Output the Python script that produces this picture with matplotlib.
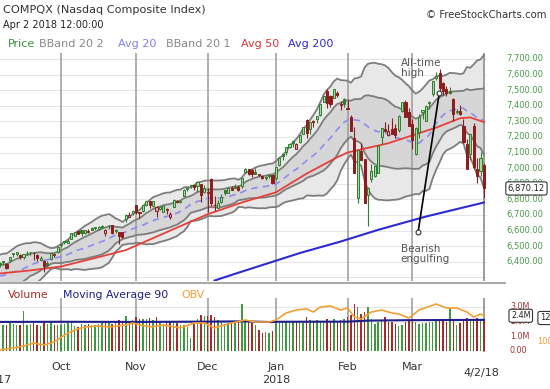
import matplotlib
matplotlib.use("Agg")
import matplotlib.pyplot as plt
import matplotlib.transforms as mtransforms
from matplotlib.lines import Line2D
import numpy as np
import pandas as pd

HOLIDAYS = ["2017-11-23", "2017-12-25", "2018-01-01", "2018-01-15",
            "2018-02-19", "2018-03-30"]

# closes Aug 9 - Sep 5 2017, only used to start the 20 day bands
warmup_closes = [6352, 6217, 6256, 6340, 6333, 6346, 6221, 6217, 6213, 6297,
                 6278, 6272, 6265, 6284, 6302, 6369, 6429, 6435, 6376]

opens = [
    6389, 6404, 6386, 6411, 6449, 6449, 6444, 6428, 6457, 6464, 6458, 6445, 6412, 6407, 6393, 6415, 6441, 6461,
    6506, 6524, 6521, 6549, 6567, 6597, 6604, 6583, 6595, 6616, 6617, 6610, 6632, 6583, 6630, 6634, 6605, 6589, 6591, 6677, 6690, 6715,
    6765, 6719, 6725, 6764, 6791, 6758, 6725, 6736, 6722, 6735, 6688, 6749, 6792, 6786, 6819, 6868, 6883, 6889, 6887, 6898, 6850,
    6844, 6932, 6763, 6746, 6786, 6860, 6841, 6873, 6876, 6882, 6884, 6975, 6995, 6991, 6974, 6957, 6948, 6942, 6958, 6954,
    6937, 7018, 7089, 7103, 7138, 7171, 7125, 7170, 7220, 7311, 7254, 7300, 7315, 7341, 7425, 7495, 7460, 7452, 7483, 7410, 7442,
    7378, 7329, 7196, 6810, 7112, 7058, 6830, 6928, 6948, 6968, 7197, 7252, 7210, 7254, 7258, 7242, 7369, 7425, 7362,
    7281, 7089, 7233, 7363, 7305, 7416, 7474, 7580, 7613, 7543, 7508, 7493, 7441, 7358, 7364, 7269, 7153, 7092, 7268, 6995, 6984, 7022,
]
highs = [
    6401, 6408, 6391, 6433, 6455, 6460, 6450, 6449, 6468, 6466, 6460, 6447, 6436, 6409, 6404, 6457, 6454, 6497,
    6517, 6533, 6544, 6586, 6591, 6600, 6605, 6604, 6610, 6620, 6625, 6627, 6636, 6608, 6635, 6637, 6612, 6590, 6591, 6708, 6716, 6729,
    6766, 6720, 6764, 6788, 6792, 6790, 6755, 6758, 6765, 6744, 6717, 6802, 6796, 6795, 6865, 6876, 6890, 6895, 6914, 6898, 6891,
    6872, 6940, 6820, 6794, 6833, 6863, 6876, 6884, 6897, 6892, 6937, 7003, 6996, 6995, 6998, 6964, 6953, 6951, 6958, 6955,
    7007, 7070, 7099, 7138, 7162, 7175, 7161, 7212, 7262, 7318, 7299, 7306, 7336, 7409, 7462, 7505, 7469, 7506, 7496, 7433, 7452,
    7436, 7342, 7266, 7119, 7162, 7058, 6880, 7025, 7017, 7148, 7256, 7299, 7286, 7319, 7286, 7338, 7421, 7436, 7383,
    7312, 7262, 7347, 7373, 7402, 7432, 7560, 7617, 7637, 7550, 7526, 7522, 7447, 7380, 7406, 7314, 7190, 7221, 7288, 7068, 7102, 7030,
]
lows = [
    6366, 6379, 6352, 6401, 6429, 6437, 6420, 6419, 6441, 6446, 6413, 6408, 6406, 6332, 6366, 6412, 6431, 6456,
    6494, 6514, 6520, 6545, 6565, 6576, 6566, 6578, 6583, 6601, 6605, 6606, 6617, 6566, 6613, 6578, 6582, 6515, 6552, 6652, 6684, 6700,
    6705, 6681, 6716, 6755, 6744, 6752, 6684, 6731, 6721, 6705, 6674, 6748, 6778, 6776, 6819, 6852, 6875, 6862, 6850, 6784, 6839,
    6717, 6760, 6728, 6744, 6780, 6825, 6841, 6858, 6870, 6854, 6874, 6972, 6954, 6943, 6962, 6947, 6928, 6927, 6936, 6901,
    6924, 7017, 7053, 7085, 7131, 7135, 7121, 7164, 7216, 7192, 7218, 7262, 7290, 7336, 7425, 7384, 7390, 7447, 7458, 7373, 7391,
    7376, 7238, 6967, 6777, 7050, 6777, 6631, 6910, 6942, 6966, 7157, 7229, 7206, 7218, 7192, 7230, 7360, 7328, 7273,
    7123, 7084, 7196, 7317, 7300, 7382, 7460, 7564, 7491, 7472, 7460, 7477, 7303, 7347, 7343, 7164, 6992, 7052, 6993, 6904, 6950, 6806,
]
closes = [
    6393, 6397, 6360, 6432, 6454, 6460, 6429, 6448, 6455, 6461, 6456, 6423, 6427, 6371, 6381, 6454, 6453, 6496,
    6517, 6532, 6534, 6585, 6590, 6580, 6587, 6604, 6592, 6606, 6624, 6624, 6625, 6605, 6629, 6587, 6598, 6564, 6556, 6701, 6698, 6728,
    6716, 6714, 6764, 6787, 6767, 6789, 6750, 6751, 6758, 6737, 6707, 6793, 6783, 6791, 6863, 6868, 6890, 6879, 6912, 6825, 6874,
    6848, 6775, 6763, 6776, 6813, 6840, 6875, 6862, 6876, 6857, 6937, 6994, 6964, 6961, 6965, 6960, 6937, 6939, 6950, 6903,
    7007, 7066, 7078, 7136, 7158, 7164, 7154, 7212, 7261, 7224, 7298, 7297, 7336, 7409, 7461, 7416, 7411, 7506, 7467, 7402, 7411,
    7386, 7241, 6968, 7116, 7052, 6777, 6874, 6982, 7013, 7143, 7256, 7240, 7235, 7219, 7210, 7337, 7421, 7330, 7273,
    7180, 7258, 7330, 7373, 7397, 7427, 7560, 7588, 7511, 7496, 7482, 7482, 7344, 7365, 7346, 7167, 6993, 7220, 7009, 6950, 7063, 6870,
]
volumes = [
    1.85, 1.80, 1.75, 1.90, 1.85, 1.80, 1.75, 2.70, 1.80, 1.85, 1.90, 1.80, 1.70, 2.00, 1.85, 1.95, 1.75, 1.80,
    1.80, 1.85, 1.90, 1.95, 1.70, 1.65, 1.85, 1.80, 1.85, 1.75, 1.80, 1.85, 1.90, 2.00, 1.90, 1.85, 1.95, 2.10, 1.95, 2.35, 2.05, 2.10,
    2.30, 2.20, 2.15, 2.20, 2.25, 2.10, 2.30, 1.95, 1.85, 2.00, 2.05, 1.95, 1.90, 1.75, 1.80, 1.60, 0.90, 1.85, 2.20, 2.45, 2.40,
    2.40, 2.45, 2.30, 2.10, 1.95, 1.85, 1.90, 1.95, 2.00, 1.95, 3.20, 2.10, 1.95, 1.90, 1.80, 1.45, 1.25, 1.30, 1.20, 1.35,
    1.95, 2.05, 2.00, 1.95, 1.95, 2.00, 2.05, 1.95, 1.90, 2.30, 2.10, 2.00, 2.10, 1.95, 2.05, 2.20, 2.05, 2.15, 2.00, 2.10, 2.20,
    2.30, 2.45, 3.20, 3.00, 2.55, 2.65, 3.00, 2.15, 1.85, 2.00, 2.10, 2.30, 1.95, 2.00, 1.85, 1.70, 1.75, 2.00, 2.05,
    2.20, 1.95, 1.85, 1.90, 1.90, 1.95, 2.00, 2.05, 2.10, 2.05, 2.00, 2.90, 2.10, 1.80, 1.90, 2.15, 2.25, 2.05, 2.20, 2.25, 2.20, 2.20,
]

ma50_dates = ["2017-09-06", "2017-09-19", "2017-10-02", "2017-10-17", "2017-10-27",
              "2017-11-15", "2017-12-01", "2017-12-15", "2018-01-02", "2018-01-16",
              "2018-01-29", "2018-02-01", "2018-02-07", "2018-02-20", "2018-03-01",
              "2018-03-12", "2018-03-21", "2018-03-26", "2018-04-02"]
ma50_values = [6325, 6345, 6370, 6430, 6475, 6600, 6705, 6780, 6845, 6965,
               7070, 7100, 7120, 7160, 7210, 7260, 7320, 7325, 7295]

ma200_dates = ["2017-12-05", "2017-12-14", "2018-01-11", "2018-01-30",
               "2018-02-14", "2018-03-07", "2018-04-02"]
ma200_values = [6280, 6330, 6456, 6530, 6605, 6690, 6780]

ma90_dates = ["2017-09-06", "2017-10-02", "2017-11-01", "2017-12-01", "2017-12-15",
              "2017-12-29", "2018-01-02", "2018-02-01", "2018-02-09", "2018-03-01",
              "2018-04-02"]
ma90_values = [1.98, 1.99, 1.98, 2.00, 2.02, 1.97, 1.99, 2.00, 2.07, 2.10, 2.12]

obv_dates = ["2017-09-06", "2017-09-12", "2017-09-15", "2017-09-20", "2017-09-25",
             "2017-09-28", "2017-10-03", "2017-10-06", "2017-10-11", "2017-10-17",
             "2017-10-20", "2017-10-27", "2017-10-31", "2017-11-07", "2017-11-13",
             "2017-11-20", "2017-11-27", "2017-11-30", "2017-12-05", "2017-12-12",
             "2017-12-18", "2017-12-21", "2017-12-28", "2018-01-02", "2018-01-05",
             "2018-01-10", "2018-01-16", "2018-01-18", "2018-01-22", "2018-01-25",
             "2018-01-30", "2018-02-01", "2018-02-05", "2018-02-07", "2018-02-12",
             "2018-02-15", "2018-02-21", "2018-02-23", "2018-02-28", "2018-03-05",
             "2018-03-12", "2018-03-15", "2018-03-20", "2018-03-23", "2018-03-27",
             "2018-03-29", "2018-04-02"]
obv_values = [91, 93, 95, 98, 96, 99, 106, 111, 114, 115, 114, 116, 118, 114, 116,
              113, 118, 118, 113, 118, 121, 119, 119, 121, 128, 131, 132, 129, 134,
              135, 131, 133, 124, 122, 129, 131, 128, 127, 123, 131, 137, 133, 133,
              129, 124, 127, 125]

price_ticks = list(range(7700, 6399, -100))
month_labels = ["Oct", "Nov", "Dec", "Jan", "Feb", "Mar"]

GREEN = "#2f7d2f"
GREEN_LIGHT = "#a9d6a2"
RED = "#8e1c1c"
RED_LIGHT = "#e3a8a8"


def DayIndex(dates, names):
    lookup = {d.strftime("%Y-%m-%d"): i for i, d in enumerate(dates)}
    return [lookup[n] for n in names]


def Main():
    dates = pd.bdate_range("2017-09-06", "2018-04-02", freq="C", holidays=HOLIDAYS)
    n = len(dates)
    x = np.arange(n)
    o = np.array(opens, float)
    h = np.array(highs, float)
    l = np.array(lows, float)
    c = np.array(closes, float)

    full = pd.Series(warmup_closes + closes, dtype=float)
    k = len(warmup_closes)
    mid = full.rolling(20).mean().to_numpy()[k:]
    sd = full.rolling(20).std(ddof=0).to_numpy()[k:]

    fig = plt.figure(figsize=(5.5, 3.89), dpi=100)
    W, H = 550.0, 389.0
    ax = fig.add_axes([0, 1 - 281 / H, 487 / W, (281 - 53) / H])
    axv = fig.add_axes([0, 1 - 352 / H, 487 / W, (352 - 298) / H])
    axo = axv.twinx()
    for a in (ax, axv, axo):
        a.set_axis_off()
        a.set_xlim(0.1, 142.9)
    ax.set_ylim(6277, 7738)
    axv.set_ylim(-0.07, 3.61)
    axo.set_ylim(89, 143)

    month_idx = [i for i in range(1, n) if dates[i].month != dates[i - 1].month]

    # grid
    for p in range(6300, 7800, 100):
        ax.axhline(p, color="#e6e6e6", lw=0.8, zorder=0)
    for v in (1.0, 2.0, 3.0):
        axv.axhline(v, color="#e6e6e6", lw=0.8, zorder=0)
    for i in month_idx + [n - 1]:
        ax.axvline(i, color="#9a9a9a", lw=1.1, zorder=2)
        axv.axvline(i, color="#9a9a9a", lw=1.1, zorder=0.5)

    # bollinger bands
    ax.fill_between(x, mid - 2 * sd, mid + 2 * sd, color="#e8e8e8", lw=0, zorder=1)
    ax.fill_between(x, mid - sd, mid + sd, color="#d6d6d6", lw=0, zorder=1)
    for band in (mid + 2 * sd, mid - 2 * sd, mid + sd, mid - sd):
        ax.plot(x, band, color="#7d7d7d", lw=1.3, zorder=2.5)
    ax.plot(x, mid, color="#8c8cf0", lw=1.2, dashes=(4, 3), zorder=3)

    ax.plot(DayIndex(dates, ma50_dates), ma50_values, color="#e5403a", lw=1.3, zorder=3)
    ax.plot(DayIndex(dates, ma200_dates), ma200_values, color="#2b2bd4", lw=1.5, zorder=3)

    # candles
    prev = np.concatenate([[warmup_closes[-1]], c[:-1]])
    up = c >= prev
    edge = np.where(up, GREEN, RED)
    face = [(GREEN_LIGHT if u else RED_LIGHT) if cc >= oo else (GREEN if u else RED)
            for u, cc, oo in zip(up, c, o)]
    ax.vlines(x, l, h, colors=edge, lw=0.8, zorder=4)
    ax.bar(x, np.maximum(np.abs(c - o), 3), width=0.62, bottom=np.minimum(o, c),
           color=face, edgecolor=edge, linewidth=0.7, zorder=5)

    # annotation
    i0, i1 = 122.7, 128.9
    ax.plot([i0, i1], [6591, 7480], color="black", lw=1.2, zorder=6)
    ax.plot([i0, i1], [6591, 7480], ls="none", marker="o", ms=3.5, mfc="white",
            mec="#333333", mew=0.8, zorder=7)
    ax.text(117.6, 7640, "All-time\nhigh", fontsize=7.5, color="#555555",
            ha="left", va="center", linespacing=1.0, zorder=8)
    ax.text(117.6, 6447, "Bearish\nengulfing", fontsize=7.5, color="#555555",
            ha="left", va="center", linespacing=1.0, zorder=8)

    # volume panel
    vcol = np.where(up, "#3e9a3e", "#a52a2a")
    axv.bar(x, volumes, width=0.42, color=vcol, lw=0, zorder=1)
    axv.plot(DayIndex(dates, ma90_dates), ma90_values, color="#1e1e8c", lw=1.5, zorder=3)
    axo.plot(DayIndex(dates, obv_dates), obv_values, color="#f2a033", lw=1.2, zorder=4)

    fig.add_artist(Line2D([0, 505 / W], [1 - 283 / H] * 2, transform=fig.transFigure,
                          color="#aaaaaa", lw=1.5))

    # header texts
    fig.text(3 / W, 1 - 10 / H, "COMPQX (Nasdaq Composite Index)", fontsize=8.1,
             color="#333333", va="center")
    fig.text(3 / W, 1 - 25 / H, "Apr 2 2018 12:00:00", fontsize=7, color="#222222",
             va="center")
    fig.text(546 / W, 1 - 15 / H, "\u00a9 FreeStockCharts.com", fontsize=7.3,
             color="#333333", va="center", ha="right")
    legend = [("Price", 8, "#3c8c3c"), ("BBand 20 2", 39, "#888888"),
              ("Avg 20", 118, "#8080ee"), ("BBand 20 1", 166, "#888888"),
              ("Avg 50", 241, "#dd3333"), ("Avg 200", 288, "#2a2ad0")]
    for label, px, col in legend:
        fig.text(px / W, 1 - 44 / H, label, fontsize=8, color=col, va="center")
    vlegend = [("Volume", 8, "#a52a2a"), ("Moving Average 90", 63, "#1e1e8c"),
               ("OBV", 181, "#f2a033")]
    for label, px, col in vlegend:
        fig.text(px / W, 1 - 295 / H, label, fontsize=7.8, color=col, va="center")

    # right axis labels
    tp = mtransforms.blended_transform_factory(fig.transFigure, ax.transData)
    for p in price_ticks:
        fig.text(543 / W, p, f"{p:,.2f}", transform=tp, fontsize=6, color="#4a9a4a",
                 ha="right", va="center")
    fig.text(545 / W, closes[-1] + 0.12, f"{6870.12:,.2f}", transform=tp, fontsize=6,
             color="#222222", ha="right", va="center",
             bbox=dict(boxstyle="round,pad=0.25", fc="white", ec="#333333", lw=0.8))

    tv = mtransforms.blended_transform_factory(fig.transFigure, axv.transData)
    for v, lab in ((3.0, "3.0M"), (2.0, "2.0M"), (1.0, "1.0M"), (0.0, "0.00")):
        fig.text(510 / W, v, lab, transform=tv, fontsize=5.8, color="#a33333",
                 ha="left", va="center")
    fig.text(511 / W, 2.4, "2.4M", transform=tv, fontsize=5.8, color="#222222",
             ha="left", va="center",
             bbox=dict(boxstyle="round,pad=0.25", fc="white", ec="#333333", lw=0.8))
    to = mtransforms.blended_transform_factory(fig.transFigure, axo.transData)
    fig.text(537 / W, 100, "100B", transform=to, fontsize=6, color="#f2a033",
             ha="left", va="center")
    fig.text(540 / W, 123, "123B", transform=to, fontsize=6, color="#222222",
             ha="left", va="center",
             bbox=dict(boxstyle="round,pad=0.25", fc="white", ec="#333333", lw=0.8))

    # date labels
    tx = mtransforms.blended_transform_factory(ax.transData, fig.transFigure)
    for i, lab in zip(month_idx, month_labels):
        fig.text(i, 1 - 367 / H, lab, transform=tx, fontsize=8, color="#333333",
                 ha="center", va="center")
    fig.text(n - 1.8, 1 - 373 / H, "4/2/18", transform=tx, fontsize=8,
             color="#333333", ha="center", va="center")
    fig.text(month_idx[3], 1 - 380 / H, "2018", transform=tx, fontsize=8,
             color="#333333", ha="center", va="center")
    fig.text(-3 / W, 1 - 380 / H, "2017", fontsize=8, color="#333333",
             ha="center", va="center")

    fig.savefig("out.png", dpi=100)
    plt.close(fig)


if __name__ == "__main__":
    Main()
